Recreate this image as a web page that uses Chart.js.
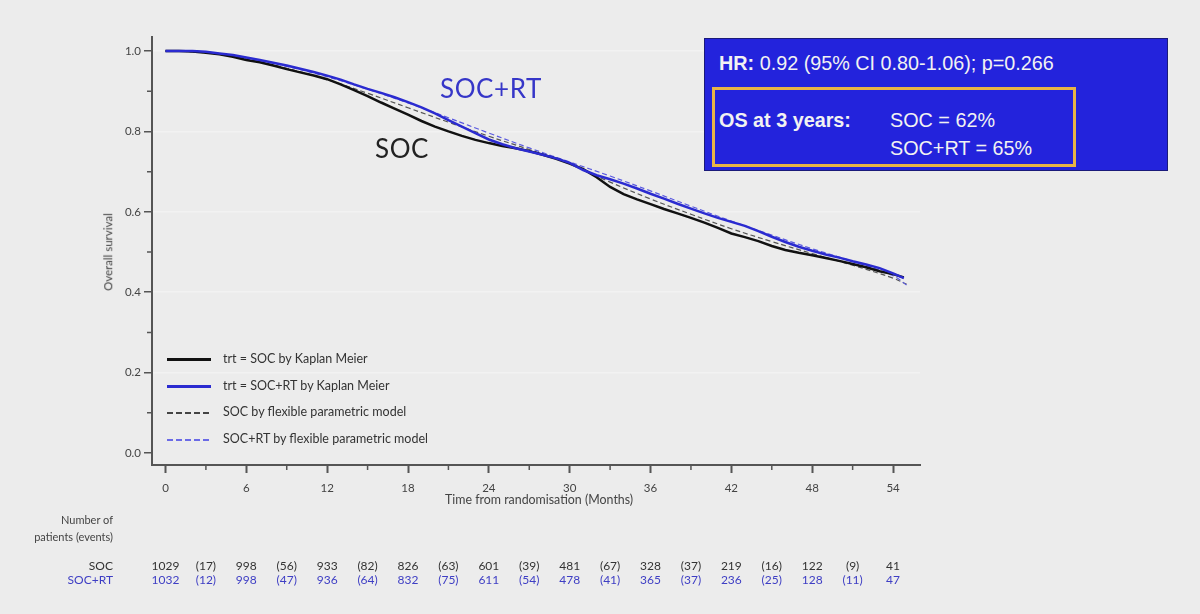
<!DOCTYPE html>
<html>
<head>
<meta charset="utf-8">
<script src="https://cdn.jsdelivr.net/npm/chart.js@4.4.1/dist/chart.umd.min.js"></script>
<style>
  body { margin: 0; background: #ececec; width: 1200px; height: 614px; overflow: hidden; position: relative; font-family: Lato, "Open Sans", sans-serif; }
  #chart { position: absolute; left: 0; top: 0; }
  .t { position: absolute; white-space: nowrap; line-height: 1; }
  .lg { position: absolute; left: 167px; width: 44px; height: 0; }
  .dash { position: absolute; left: 167px; width: 44px; height: 1.5px; }
  .lgt { position: absolute; left: 223px; font-size: 12.5px; color: #333; white-space: nowrap; line-height: 1; }
  .risk { position: absolute; font-size: 12px; line-height: 1; transform: translateX(-50%); white-space: nowrap; }
  #box { position: absolute; left: 704px; top: 38px; width: 462px; height: 131px; background: #2323dc; border: 1px solid #1a1a7a; font-family: "Liberation Sans", Arial, sans-serif; color: #f2f2f2; }
  #inner { position: absolute; left: 7px; top: 48px; width: 358px; height: 74px; border: 3px solid #e8b447; }
  #box .t { font-size: 19.8px; }
</style>
</head>
<body>
<canvas id="chart" width="1200" height="614"></canvas>

<div class="t" style="left:440px;top:75px;font-size:26px;color:#3636c8;letter-spacing:0.6px">SOC+RT</div>
<div class="t" style="left:375px;top:135px;font-size:26px;color:#222;letter-spacing:0.6px">SOC</div>

<div class="lg" style="top:358px;border-top:3px solid #111"></div>
<div class="lgt" style="top:353px">trt = SOC by Kaplan Meier</div>
<div class="lg" style="top:385px;border-top:3px solid #2b2bd0"></div>
<div class="lgt" style="top:380px">trt = SOC+RT by Kaplan Meier</div>
<div class="dash" style="top:412px;background:repeating-linear-gradient(to right,#444 0 6px,transparent 6px 9px)"></div>
<div class="lgt" style="top:406px">SOC by flexible parametric model</div>
<div class="dash" style="top:439px;background:repeating-linear-gradient(to right,#6a6ae6 0 6px,transparent 6px 9px)"></div>
<div class="lgt" style="top:433px">SOC+RT by flexible parametric model</div>

<div class="t" style="left:108px;top:252px;font-size:11.5px;color:#444;transform:translate(-50%,-50%) rotate(-90deg)">Overall survival</div>
<div class="t" style="left:445px;top:494px;font-size:12.4px;color:#444">Time from randomisation (Months)</div>

<div class="t" style="right:1087px;top:514px;font-size:11px;color:#444;text-align:right">Number of</div>
<div class="t" style="right:1087px;top:531px;font-size:11px;color:#444;text-align:right">patients (events)</div>
<div class="t" style="right:1087px;top:560px;font-size:12px;color:#333">SOC</div>
<div class="t" style="right:1087px;top:574px;font-size:12px;color:#3e3ec4">SOC+RT</div>
<div id="riskrows"></div>

<div id="box">
  <div class="t" style="left:14px;top:15px"><b>HR:</b> 0.92 (95% CI 0.80-1.06); p=0.266</div>
  <div id="inner"></div>
  <div class="t" style="left:14px;top:72px"><b>OS at 3 years:</b></div>
  <div class="t" style="left:185px;top:72px">SOC = 62%</div>
  <div class="t" style="left:185px;top:100px">SOC+RT = 65%</div>
</div>

<script>
// Kaplan Meier estimates (months, survival)
const kmTimes = [0,1,2,3,4,5,6,7,8,9,10,11,12,13,14,15,16,17,18,19,20,21,22,23,24,25,26,27,28,29,30,31,32,33,34,35,36,37,38,39,40,41,42,43,44,45,46,47,48,49,50,51,52,53,54,54.8];
const socKM = [1.000,1.000,0.999,0.996,0.992,0.986,0.978,0.972,0.964,0.955,0.947,0.939,0.930,0.917,0.903,0.888,0.872,0.857,0.842,0.826,0.812,0.800,0.789,0.779,0.771,0.764,0.758,0.751,0.742,0.732,0.720,0.706,0.686,0.662,0.644,0.631,0.619,0.607,0.596,0.585,0.573,0.560,0.546,0.537,0.527,0.515,0.505,0.498,0.492,0.485,0.478,0.470,0.462,0.452,0.445,0.437];
const rtKM = [1.000,1.000,1.000,0.998,0.994,0.990,0.984,0.978,0.971,0.964,0.956,0.948,0.939,0.929,0.917,0.906,0.896,0.885,0.873,0.860,0.845,0.828,0.812,0.796,0.780,0.768,0.758,0.750,0.742,0.733,0.722,0.704,0.691,0.681,0.670,0.658,0.645,0.633,0.620,0.608,0.596,0.585,0.575,0.565,0.552,0.538,0.525,0.513,0.503,0.494,0.486,0.477,0.469,0.460,0.447,0.435];

// flexible parametric model fits
const fitTimes = [0,3,6,9,12,15,18,21,24,27,30,33,36,39,42,45,48,51,54,55];
const socFit = [1.000,0.996,0.980,0.957,0.929,0.895,0.859,0.823,0.788,0.755,0.720,0.674,0.632,0.594,0.558,0.526,0.496,0.467,0.435,0.420];
const rtFit = [1.000,0.997,0.983,0.962,0.936,0.905,0.871,0.834,0.796,0.759,0.724,0.689,0.652,0.614,0.577,0.542,0.508,0.477,0.441,0.418];

const xTicks = [0,6,12,18,24,30,36,42,48,54];
const xMinor = [3,9,15,21,27,33,39,45,51];
const yTicks = [0,0.2,0.4,0.6,0.8,1.0];
const yMinor = [0.1,0.3,0.5,0.7,0.9];

// numbers at risk (at 0,6,..54) and events (between)
const riskTimes = [0,6,12,18,24,30,36,42,48,54];
const eventTimes = [3,9,15,21,27,33,39,45,51];
const socAtRisk = [1029,998,933,826,601,481,328,219,122,41];
const socEvents = [17,56,82,63,39,67,37,16,9];
const rtAtRisk = [1032,998,936,832,611,478,365,236,128,47];
const rtEvents = [12,47,64,75,54,41,37,25,11];

function pts(xs, ys) {
    return xs.map((x, i) => ({ x: x, y: ys[i] }));
}

const minorTicks = {
    id: 'minorTicks',
    afterDraw(chart) {
        const ctx = chart.ctx;
        const xs = chart.scales.x, ys = chart.scales.y;
        const a = chart.chartArea;
        ctx.save();
        ctx.strokeStyle = '#555';
        ctx.lineWidth = 1.5;
        ctx.beginPath();
        xMinor.forEach(v => {
            const px = xs.getPixelForValue(v);
            ctx.moveTo(px, a.bottom); ctx.lineTo(px, a.bottom + 5);
        });
        yMinor.forEach(v => {
            const py = ys.getPixelForValue(v);
            ctx.moveTo(a.left, py); ctx.lineTo(a.left - 5, py);
        });
        ctx.stroke();
        ctx.restore();
    }
};

const chart = new Chart(document.getElementById('chart'), {
    type: 'line',
    data: {
        datasets: [
            { label: 'trt = SOC by Kaplan Meier', data: pts(kmTimes, socKM), borderColor: '#111', borderWidth: 2.5, pointRadius: 0, order: 1 },
            { label: 'trt = SOC+RT by Kaplan Meier', data: pts(kmTimes, rtKM), borderColor: '#2b2bd0', borderWidth: 2.5, pointRadius: 0, order: 0 },
            { label: 'SOC by flexible parametric model', data: pts(fitTimes, socFit), borderColor: '#555', borderWidth: 1.2, borderDash: [5, 3], pointRadius: 0, tension: 0.4, order: 3 },
            { label: 'SOC+RT by flexible parametric model', data: pts(fitTimes, rtFit), borderColor: '#5a5ae0', borderWidth: 1.2, borderDash: [5, 3], pointRadius: 0, tension: 0.4, order: 2 }
        ]
    },
    options: {
        responsive: false,
        animation: false,
        devicePixelRatio: 1,
        layout: { padding: { left: 0, top: 37, right: 280, bottom: 109 } },
        plugins: { legend: { display: false }, tooltip: { enabled: false } },
        scales: {
            x: {
                type: 'linear', min: -1, max: 56,
                afterFit: s => { s.height = 40; },
                afterBuildTicks: s => { s.ticks = xTicks.map(v => ({ value: v })); },
                border: { color: '#555', width: 2 },
                grid: { drawOnChartArea: false, tickLength: 8, tickColor: '#555', tickWidth: 2 },
                ticks: { color: '#444', font: { family: 'Lato', size: 11.5 }, padding: 8, maxRotation: 0 }
            },
            y: {
                type: 'linear', min: -0.03, max: 1.035,
                afterFit: s => { s.width = 152; },
                afterBuildTicks: s => { s.ticks = yTicks.map(v => ({ value: v })); },
                border: { color: '#555', width: 2 },
                grid: {
                    color: c => c.tick && c.tick.value > 0 ? '#f2f2f2' : 'rgba(0,0,0,0)',
                    lineWidth: 1.5, tickLength: 8, tickColor: '#555', tickWidth: 1.5
                },
                ticks: { color: '#444', font: { family: 'Lato', size: 11.5 }, padding: 3, callback: v => v.toFixed(1) }
            }
        }
    },
    plugins: [minorTicks]
});

// number at risk table, columns placed on the x scale
function riskRow(times, vals, top, color, paren) {
    const holder = document.getElementById('riskrows');
    times.forEach((t, i) => {
        const d = document.createElement('div');
        d.className = 'risk';
        d.style.left = chart.scales.x.getPixelForValue(t) + 'px';
        d.style.top = top + 'px';
        d.style.color = color;
        d.textContent = paren ? '(' + vals[i] + ')' : vals[i];
        holder.appendChild(d);
    });
}
riskRow(riskTimes, socAtRisk, 560, '#333', false);
riskRow(eventTimes, socEvents, 560, '#333', true);
riskRow(riskTimes, rtAtRisk, 574, '#3e3ec4', false);
riskRow(eventTimes, rtEvents, 574, '#3e3ec4', true);
</script>
</body>
</html>
